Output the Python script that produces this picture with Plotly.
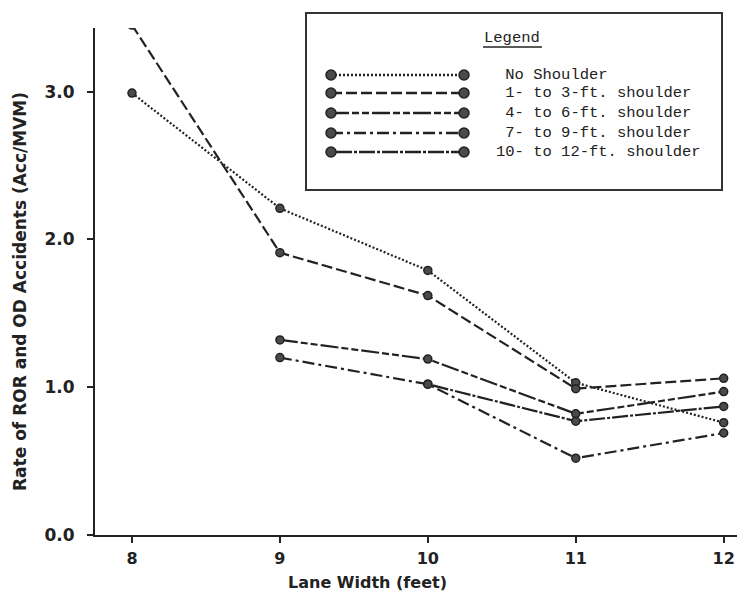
import plotly.graph_objects as go

# ---------------- data ----------------
lane_width = [8, 9, 10, 11, 12]
no_shoulder = [2.99, 2.21, 1.79, 1.03, 0.76]
shoulder_1_3 = [3.45, 1.91, 1.62, 0.99, 1.06]
shoulder_4_6 = [None, 1.32, 1.19, 0.82, 0.97]
shoulder_7_9 = [None, 1.20, 1.02, 0.52, 0.69]
shoulder_10_12 = [None, None, 1.02, 0.77, 0.87]

series_names = ["No Shoulder", "1- to 3-ft. shoulder", "4- to 6-ft. shoulder",
                "7- to 9-ft. shoulder", "10- to 12-ft. shoulder"]
series_values = [no_shoulder, shoulder_1_3, shoulder_4_6, shoulder_7_9, shoulder_10_12]
y_ticks = [0, 1, 2, 3]
y_tick_labels = ["0.0", "1.0", "2.0", "3.0"]

# ---------------- styles ----------------
dashes = ["2px,2px", "11px,4px", "18px,3px,7px,3px,7px,3px", "12px,4px,3px,4px", "3px,2px,16px,2px"]
INK = "#222222"
AXFONT = "DejaVu Sans"
MONO = "Liberation Mono"

W, H = 737, 594
ML, MR, MT, MB = 95, 0, 28, 59
PW, PH = W - ML - MR, H - MT - MB


def px(x):
    return (x - ML) / PW


def py(y):
    return (H - MB - y) / PH


fig = go.Figure()
for name, vals, dash in zip(series_names, series_values, dashes):
    fig.add_trace(go.Scatter(
        x=lane_width, y=vals, name=name, mode="lines+markers",
        line=dict(color=INK, width=2.2, dash=dash),
        marker=dict(size=8, color="#4a4a4a", line=dict(color=INK, width=1.5)),
        showlegend=False, connectgaps=False,
    ))

shapes = []
annotations = []

# custom legend box
shapes.append(dict(type="rect", xref="paper", yref="paper",
                   x0=px(306), x1=px(722), y0=py(190), y1=py(13),
                   line=dict(color="#333333", width=2), fillcolor="white", layer="below"))
annotations.append(dict(text="Legend", xref="paper", yref="paper", x=px(512), y=py(38),
                        showarrow=False, xanchor="center", yanchor="middle",
                        font=dict(family=MONO, size=15.5, color=INK)))
shapes.append(dict(type="line", xref="paper", yref="paper", x0=px(483), x1=px(542),
                   y0=py(47), y1=py(47), line=dict(color=INK, width=1.5)))

row_y = [75, 93, 113, 133, 152]
for name, dash, ry in zip(series_names, dashes, row_y):
    shapes.append(dict(type="line", xref="paper", yref="paper",
                       x0=px(331), x1=px(464), y0=py(ry), y1=py(ry),
                       line=dict(color=INK, width=2.5, dash=dash)))
    for cx in (331, 464):
        shapes.append(dict(type="circle", xref="paper", yref="paper",
                           x0=px(cx - 5), x1=px(cx + 5), y0=py(ry + 5), y1=py(ry - 5),
                           line=dict(color=INK, width=1.5), fillcolor="#4a4a4a"))
    label = name if name.startswith("10") else "\u00a0" + name
    annotations.append(dict(text=label, xref="paper", yref="paper", x=px(494), y=py(ry),
                            showarrow=False, xanchor="left", yanchor="middle",
                            font=dict(family=MONO, size=15.5, color=INK)))

# axis titles
annotations.append(dict(text="<b>Lane Width (feet)</b>", xref="paper", yref="paper",
                        x=px(367), y=py(582), showarrow=False, xanchor="center", yanchor="middle",
                        font=dict(family=AXFONT, size=16, color=INK)))
annotations.append(dict(text="<b>Rate of ROR and OD Accidents (Acc/MVM)</b>", xref="paper", yref="paper",
                        x=px(20), y=py(292), showarrow=False, textangle=-90,
                        xanchor="center", yanchor="middle",
                        font=dict(family=AXFONT, size=17, color=INK)))

fig.update_layout(
    width=W, height=H, margin=dict(l=ML, r=MR, t=MT, b=MB),
    paper_bgcolor="white", plot_bgcolor="white",
    shapes=shapes, annotations=annotations,
    font=dict(family=AXFONT, color=INK),
)
fig.update_xaxes(range=[7.75, 12.09], tickvals=lane_width,
                 ticktext=["<b>%s</b>" % v for v in lane_width],
                 showgrid=False, zeroline=False, showline=True, linecolor=INK, linewidth=2,
                 ticks="outside", ticklen=6, tickwidth=2, tickcolor=INK,
                 tickfont=dict(family=AXFONT, size=16, color=INK),
                 ticklabelstandoff=2)
fig.update_yaxes(range=[0, 3.43], tickvals=y_ticks, ticktext=["<b>%s</b>" % t for t in y_tick_labels],
                 showgrid=False, zeroline=False, showline=True, linecolor=INK, linewidth=2,
                 ticks="outside", ticklen=6, tickwidth=2, tickcolor=INK,
                 tickfont=dict(family=AXFONT, size=17, color=INK),
                 ticklabelstandoff=9)

fig.write_html("out.html")
